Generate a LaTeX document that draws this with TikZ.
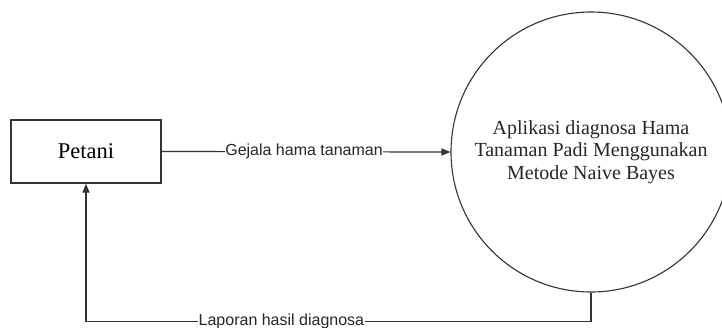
\documentclass[tikz,border=0pt]{standalone}
\usepackage{fontspec}
\setmainfont{Liberation Serif}
\newfontfamily\arialfont{Liberation Sans}
\usetikzlibrary{arrows.meta,calc}
\definecolor{linegray}{HTML}{333333}
\tikzset{
  entitybox/.style={draw=linegray, line width=1.3pt, minimum width=150pt, minimum height=63pt, inner sep=0pt, font=\fontsize{22.5}{26}\selectfont},
  processcircle/.style={draw=linegray, line width=1.1pt, circle, minimum size=280pt, inner sep=0pt, align=center, font=\fontsize{20}{22.5}\selectfont, text=black!85},
  flow/.style={draw=linegray, line width=1.2pt, -{Triangle[length=9pt,width=7pt]}},
  flowlabel/.style={fill=white, inner sep=0.5pt, font=\arialfont\fontsize{16}{18}\selectfont, text=black!85}
}
\begin{document}
\begin{tikzpicture}[x=1pt,y=-1pt]
\useasboundingbox (0,0) rectangle (722,327);
\clip (0,0) rectangle (722,327);
\fill[white] (0,0) rectangle (722,327);
\node[entitybox] (petani) at (86,151.5) {Petani};
\node[processcircle] (proc) at (591,152) {Aplikasi diagnosa Hama\\Tanaman Padi Menggunakan\\Metode Naive Bayes};
\draw[flow] (petani.east) -- node[flowlabel, pos=0.493] (l1) {Gejala hama tanaman} (proc.west);
\coordinate (c1) at ($(proc.south)+(0,29)$);
\coordinate (c2) at (c1 -| petani.south);
\draw[flow] (proc.south) -- (c1) -- node[flowlabel, pos=0.613] (l2) {Laporan hasil diagnosa} (c2) -- (petani.south);
\end{tikzpicture}
\end{document}
